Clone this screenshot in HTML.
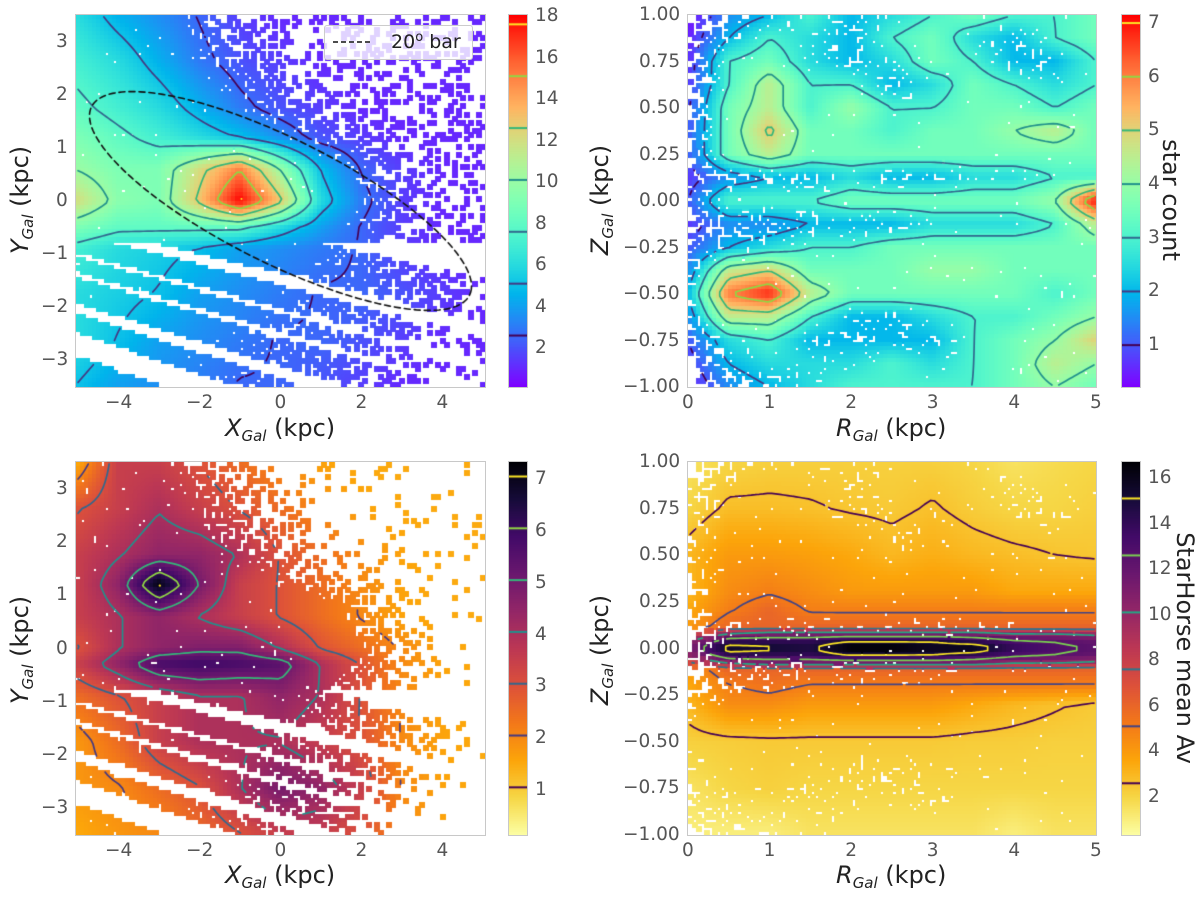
<!DOCTYPE html>
<html><head><meta charset="utf-8">
<style>
html,body{margin:0;padding:0;background:#fff;}
#root{position:relative;width:1200px;height:899px;overflow:hidden;font-family:"DejaVu Sans","Liberation Sans",sans-serif;color:#555;}
canvas{position:absolute;}
.t{position:absolute;white-space:nowrap;font-size:18.5px;color:#555;line-height:1;}
.lab{position:absolute;white-space:nowrap;font-size:24px;color:#222;line-height:1;}
.lab i{font-style:italic;}
.lab sub{font-size:15px;font-style:italic;vertical-align:-5px;}
.frame{position:absolute;border:1px solid #c8c8c8;box-sizing:border-box;pointer-events:none;}
</style></head>
<body>
<div id="root"></div>
<script>
// ---------- chart data ----------
const xTicksXY=[-4,-2,0,2,4];
const yTicksXY=[-3,-2,-1,0,1,2,3];
const rTicks=[0,1,2,3,4,5];
const zTicks=[-1,-0.75,-0.5,-0.25,0,0.25,0.5,0.75,1];
const cbTicksA=[2,4,6,8,10,12,14,16,18];
const cbTicksB=[1,2,3,4,5,6,7];
const cbTicksC=[1,2,3,4,5,6,7];
const cbTicksD=[2,4,6,8,10,12,14,16];
const levelsA=[2.6,5.1,7.6,10.1,12.6,15.1,17.6];
const levelsB=[1,2,3,4,5,6,7];
const levelsC=[1.05,2.05,3.05,4.05,5.05,6.05,7.05];
const levelsD=[2.6,5.1,7.6,10.1,12.6,15.1];
const gridX=[-5,-4,-3,-2,-1,0,1,2,3,4,5];
const gridY=[3.5,2.625,1.75,1.2,0.6,0,-0.5,-0.9,-1.75,-2.625,-3.5];
const countA=[
[6,4.5,3.5,2.5,1.5,1,1,1,1,1,1],
[7,6,4.5,3,2,1.5,1,1,1,1,1],
[8,7,6,4.5,3,2,1.5,1,1,1,1],
[9,8,7,6,5,3.5,2,1.5,1,1,1],
[10,9,9,12,15,10,5,2.5,1.5,1,1],
[12,9.5,9,13,18,13,6,3,1.5,1,1],
[9,8,8,8,8,6,4,2.5,1.5,1,1],
[7,6,5.5,5,4,3.5,3,2.5,1.5,1,1],
[6,5.5,5,4,3.5,3,2.5,2.5,2,1.5,1],
[6,5,4,3.5,3,2.5,2.5,2,1.5,1,1],
[5,4,3.5,3,2.5,2.5,2,1.5,1,1,1]];
const gridYC=[3.5,2.625,1.75,1.2,0.6,0,-0.3,-0.9,-1.75,-2.625,-3.5];
const avC=[
[1.5,3.5,3.5,3,2.5,2,1.6,1.5,1.5,1.5,1.5],
[3,3.5,4,3.5,3,2.5,2,1.6,1.5,1.5,1.5],
[3.5,4,4.5,4.5,4,3,2.5,2,1.6,1.5,1.5],
[3.5,4.5,7.2,5,3.5,3,2.5,2,1.6,1.5,1.5],
[3.5,4,4.5,4,3.5,3,2.5,2,1.6,1.5,1.5],
[3,4,4.5,4.8,4.8,4,3,2.5,2,1.6,1.5],
[3.5,4.5,5.8,6,5.8,5.5,4,3,2,1.6,1.5],
[2.5,3,3.5,4,4,4.5,4,3,2,1.6,1.5],
[1.8,2.5,3.5,4,4,4,3.5,3,2,1.6,1.5],
[1.8,2,2.5,3,4,5,4.5,3.5,2,1.6,1.5],
[1.5,1.8,2,2.5,3,3.5,3.5,3,2,1.6,1.5]];
const gridR=[0,0.5,1,1.5,2,2.5,3,3.5,4,4.5,5];
const gridZB=[1,0.875,0.75,0.625,0.5,0.375,0.25,0.125,0,-0.125,-0.25,-0.375,-0.5,-0.625,-0.75,-0.875,-1];
const countB=[
[0.3,1.5,2,3,2,2.5,3,3.5,3,3,3.5],
[0.5,2,3,2.5,2,3,3.5,2.5,2,3,3.5],
[0.6,3,3.5,2.5,2,2.5,3.5,3,2,2,3],
[0.7,3,4.5,3,3,2,2.5,3.5,3,2.5,3],
[0.9,3.5,4.5,3,4,3,3,3.5,3.5,3,3.5],
[1,3.5,5.2,3.5,3.5,3,3.5,3.5,4,4.5,3.5],
[1,3.5,4.5,3.5,3.5,3.5,3.5,3.5,3.5,3.5,3.5],
[0.7,1.5,2,2,2.5,2,2,2.5,2.5,3,3],
[1,3,3,3,3.5,3.5,3.5,3.5,3.5,4,7],
[0.7,1.5,1.5,2,2,2,2.5,2.5,2.5,3,4.5],
[1,2,2.5,3,3,3.5,3.5,3.5,3.5,3.5,3.5],
[1.5,4.5,5,3.5,3.5,3.5,4,4,3.5,3.5,3.5],
[2,6,6.8,4.5,3.5,3.5,3.5,3.5,3.5,3,3.5],
[1.5,4.5,4.5,3,2,2,2.5,3,3,3.5,4],
[1,2.5,3,2,2,2,2,3,3.5,4,5],
[0.7,2,2.5,2.5,2.5,3,2.5,3,3.5,4.5,4],
[0.4,1.5,2,2.5,3,3,3,3,3.5,4,3.5]];
const gridZD=[1,0.75,0.5,0.3,0.2,0.12,0.08,0.04,0,-0.04,-0.08,-0.12,-0.2,-0.3,-0.5,-0.75,-1];
const avD=[
[1.5,2,2.2,2.2,2.2,2.2,2.2,2,1.5,1.8,2],
[2,2.8,2.8,2.7,2.5,2.4,2.7,2.3,2,2,2.2],
[3,4,4,3.8,3.5,3,3.3,3,2.8,2.6,2.5],
[3,4.5,5,4.5,4,4,4,4,3.5,3.5,3.5],
[3.5,5,6,5,5,5,5,5,5,5,5],
[4,6,6,6,6,6,6,6,6,6,6],
[7,10,11,11,11,11,11,11,10,10,9.5],
[10,14,14,14,15,15,15,14,13,12.5,12],
[11,16,15.5,15,17,17,16,16.5,14,13,12.5],
[10,14,14,14,15,15,15,14,13,12.5,12],
[7,10,11,11,11,11,11,11,10,10,9.5],
[4,6,6,6,6,6,6,6,6,6,6],
[3.5,5,5.5,5,5,5,5,5,5,5,5],
[3,4.5,4.5,4,4,4,4,3.5,3,2.7,2.4],
[2.2,2.3,2.4,2.4,2.4,2.4,2.4,2.3,2.3,2.2,2.2],
[1.5,2,2.2,2,2,2,2,2,2,2,2],
[1,1,1,1.5,1.5,1.5,1.5,1.5,1,1.5,1.5]];
const stripeBands=[[-0.40,0.2],[-0.95,-0.62],[-1.32,-1.07],[-1.89,-1.45],[-2.45,-2.12],[-3.52,-2.92],[-4.5,-3.9]];
const barA=5.0, barB=1.22, barAngle=20;

// ---------- layout ----------
const P={
 A:{x0:76,x1:485,y0:15,y1:387,xd:[-5.05,5.05],yd:[-3.5,3.5]},
 B:{x0:688,x1:1096,y0:15,y1:387,xd:[0,5],yd:[-1,1]},
 C:{x0:76,x1:485,y0:462,y1:835,xd:[-5.05,5.05],yd:[-3.5,3.5]},
 D:{x0:688,x1:1096,y0:462,y1:835,xd:[0,5],yd:[-1,1]}
};
const CB={
 A:{x0:509,x1:527,y0:15,y1:387,lo:0.12,hi:18.05},
 B:{x0:1122,x1:1140,y0:15,y1:387,lo:0.22,hi:7.15},
 C:{x0:509,x1:527,y0:462,y1:835,lo:0.13,hi:7.33},
 D:{x0:1122,x1:1140,y0:462,y1:835,lo:0.33,hi:16.7}
};
const root=document.getElementById('root');
function sx(p,v){return p.x0+(v-p.xd[0])/(p.xd[1]-p.xd[0])*(p.x1-p.x0);}
function sy(p,v){return p.y1-(v-p.yd[0])/(p.yd[1]-p.yd[0])*(p.y1-p.y0);}

function seg(arr,v){
  const asc=arr[arr.length-1]>arr[0];
  for(let i=0;i<arr.length-1;i++){
    const a=arr[i],b=arr[i+1];
    if(asc? (v>=a&&v<=b):(v<=a&&v>=b)) return [i,(v-a)/(b-a)];
  }
  if(asc) return v<arr[0]?[0,0]:[arr.length-2,1];
  return v>arr[0]?[0,0]:[arr.length-2,1];
}
function sample(cols,rows,vals,x,y){
  const [i,fx]=seg(cols,x),[j,fy]=seg(rows,y);
  const a=vals[j][i],b=vals[j][i+1],c=vals[j+1][i],d=vals[j+1][i+1];
  return (a*(1-fx)+b*fx)*(1-fy)+(c*(1-fx)+d*fx)*fy;
}
function hsh(i,j,s){const v=Math.sin(i*12.9898+j*78.233+s*3.7)*43758.5453;return v-Math.floor(v);}
function clamp(v,a,b){return Math.max(a,Math.min(b,v));}
function stripeWhite(x,y){
  if(y>-0.78) return false;
  const dx=x+5.05;
  const y0=(y+0.172*dx)/(1+0.035*dx);
  for(const b of stripeBands){ if(y0>=b[0]&&y0<=b[1]) return false; }
  return true;
}
function rainbow(t){t=clamp(t,0,1);return [Math.min(1,Math.abs(2*t-0.5)),Math.sin(Math.PI*t),Math.cos(Math.PI*t/2)].map(v=>Math.round(clamp(v,0,1)*255));}
const inf=[[0,0,4],[22,11,57],[66,10,104],[106,23,110],[147,38,103],[188,55,84],[221,81,58],[243,120,25],[252,165,10],[246,215,70],[252,255,164]];
function infernoR(t){t=clamp(1-t,0,1)*10;const i=Math.min(9,Math.floor(t)),f=t-i;return inf[i].map((c,k)=>Math.round(c+(inf[i+1][k]-c)*f));}
const vir7=['#440154','#443983','#31688e','#21918c','#35b779','#90d743','#fde725'];
const vir6=['#440154','#414487','#2a788e','#22a884','#7ad151','#fde725'];

const NX=100,NY=92;
function makeCanvas(x,y,w,h,name){
  const c=document.createElement('canvas');c.width=w;c.height=h;c.style.left=x+'px';c.style.top=y+'px';
  
  
  root.appendChild(c);return c;
}
function drawPanel(key,valFn,presFn,cmap,levels,cols,name){
  const p=P[key],cb=CB[key];
  const w=p.x1-p.x0,h=p.y1-p.y0;
  const cv=makeCanvas(p.x0,p.y0,w,h,name);
  const ctx=cv.getContext('2d');
  const cw=w/NX,ch=h/NY;
  const F=[],M=[];
  for(let j=0;j<NY;j++){F.push([]);M.push([]);for(let i=0;i<NX;i++){
    const x=p.xd[0]+(i+0.5)/NX*(p.xd[1]-p.xd[0]);
    const y=p.yd[1]-(j+0.5)/NY*(p.yd[1]-p.yd[0]);
    const v=valFn(x,y);F[j].push(v);
    const pr=presFn(x,y,i,j);M[j].push(pr);
    if(pr){
      const c=cmap((v-cb.lo)/(cb.hi-cb.lo));
      ctx.fillStyle='rgb('+c.join(',')+')';
      ctx.fillRect(Math.floor(i*cw),Math.floor(j*ch),Math.ceil(cw)+1,Math.ceil(ch)+1);
    }
  }}
  ctx.lineWidth=1.7;ctx.lineCap='round';
  levels.forEach((L,li)=>{
    ctx.strokeStyle=cols[li];ctx.beginPath();
    for(let j=0;j<NY-1;j++)for(let i=0;i<NX-1;i++){
      const np=(M[j][i]?1:0)+(M[j][i+1]?1:0)+(M[j+1][i]?1:0)+(M[j+1][i+1]?1:0);
      if(np<3) continue;
      const a=F[j][i],b=F[j][i+1],c=F[j+1][i+1],d=F[j+1][i];
      const X0=(i+0.5)*cw,Y0=(j+0.5)*ch;
      const pts=[];
      if((a>=L)!==(b>=L))pts.push([X0+(L-a)/(b-a)*cw,Y0]);
      if((b>=L)!==(c>=L))pts.push([X0+cw,Y0+(L-b)/(c-b)*ch]);
      if((c>=L)!==(d>=L))pts.push([X0+(L-d)/(c-d)*cw,Y0+ch]);
      if((d>=L)!==(a>=L))pts.push([X0,Y0+(L-a)/(d-a)*ch]);
      for(let k=0;k+1<pts.length;k+=2){ctx.moveTo(pts[k][0],pts[k][1]);ctx.lineTo(pts[k+1][0],pts[k+1][1]);}
    }
    ctx.stroke();
  });
  const fr=document.createElement('div');fr.className='frame';
  fr.style.cssText='left:'+(p.x0-1)+'px;top:'+(p.y0-1)+'px;width:'+(w+2)+'px;height:'+(h+2)+'px;';
  
  
  root.appendChild(fr);
  return ctx;
}
function drawColorbar(key,cmap,levels,cols,ticks,name){
  const cb=CB[key];const w=cb.x1-cb.x0,h=cb.y1-cb.y0;
  const cv=makeCanvas(cb.x0,cb.y0,w,h,name);
  const ctx=cv.getContext('2d');
  for(let y=0;y<h;y++){const v=cb.hi-(y+0.5)/h*(cb.hi-cb.lo);const c=cmap((v-cb.lo)/(cb.hi-cb.lo));
    ctx.fillStyle='rgb('+c.join(',')+')';ctx.fillRect(0,y,w,1);}
  ctx.lineWidth=2;
  levels.forEach((L,i)=>{const y=(cb.hi-L)/(cb.hi-cb.lo)*h;ctx.strokeStyle=cols[i];ctx.beginPath();ctx.moveTo(0,y);ctx.lineTo(w,y);ctx.stroke();});
  const fr=document.createElement('div');fr.className='frame';
  fr.style.cssText='left:'+(cb.x0-1)+'px;top:'+(cb.y0-1)+'px;width:'+(w+2)+'px;height:'+(h+2)+'px;';
  
  
  root.appendChild(fr);
  ticks.forEach(t=>{
    const y=cb.y0+(cb.hi-t)/(cb.hi-cb.lo)*h;
    const d=document.createElement('div');d.className='t';d.textContent=String(t);
    d.style.left=(cb.x1+8)+'px';d.style.top=(y-9)+'px';
    
    
    root.appendChild(d);
  });
}
function fmt(v,dec){let s=v.toFixed(dec);if(v<0)s='\u2212'+s.slice(1);return s;}
function ticksAxes(key,xt,yt,ydec,name){
  const p=P[key];
  xt.forEach(v=>{const d=document.createElement('div');d.className='t';d.textContent=fmt(v,0);
    root.appendChild(d);d.style.top=(p.y1+7)+'px';d.style.left=(sx(p,v)-d.offsetWidth/2)+'px';
    
    });
  yt.forEach(v=>{const d=document.createElement('div');d.className='t';d.textContent=fmt(v,ydec);
    root.appendChild(d);d.style.top=(sy(p,v)-9)+'px';d.style.left=(p.x0-8-d.offsetWidth)+'px';
    
    });
}
function label(html,cx,cy,rot,name){
  const d=document.createElement('div');d.className='lab';d.innerHTML=html;root.appendChild(d);
  d.style.left=(cx-d.offsetWidth/2)+'px';d.style.top=(cy-d.offsetHeight/2)+'px';
  if(rot)d.style.transform='rotate('+rot+'deg)';
  
  
}

const vA=(x,y)=>sample(gridX,gridY,countA,x,y);
const vB=(x,y)=>sample(gridR,gridZB,countB,x,y);
const vC=(x,y)=>sample(gridX,gridYC,avC,x,y);
const vD=(x,y)=>sample(gridR,gridZD,avD,x,y);
function presA(x,y,i,j){if(stripeWhite(x,y))return false;const v=vA(x,y);const p=v>=3?0.985:clamp(0.25+(v-1)*0.3,0,1);return hsh(i,j,1)<p;}
function presC(x,y,i,j){if(stripeWhite(x,y))return false;const v=vA(x,y);const p=v>=3.5?0.975:clamp(0.12+(v-1.2)*0.35,0,1);return hsh(i,j,2)<p;}
function presB(x,y,i,j){const v=vB(x,y);const p=v>=3?0.985:clamp(0.3+(v-0.6)*0.3,0,1);return hsh(i,j,3)<p;}
function presD(x,y,i,j){const v=vB(x,y);const p=v>=3?0.97:clamp(0.35+(v-0.6)*0.28,0,1);return hsh(i,j,4)<p;}

const ctxA=drawPanel('A',vA,presA,rainbow,levelsA,vir7,'xy-star-count-heatmap');
drawPanel('B',vB,presB,rainbow,levelsB,vir7,'rz-star-count-heatmap');
drawPanel('C',vC,presC,infernoR,levelsC,vir7,'xy-mean-av-heatmap');
drawPanel('D',vD,presD,infernoR,levelsD,vir6,'rz-mean-av-heatmap');

(function(){const p=P.A;const th=barAngle*Math.PI/180;ctxA.setLineDash([6,4]);ctxA.strokeStyle='#111';ctxA.lineWidth=1.6;ctxA.beginPath();
 for(let k=0;k<=200;k++){const t=k/200*2*Math.PI;const x=barA*Math.cos(t)*Math.cos(th)+barB*Math.sin(t)*Math.sin(th);
  const y=-barA*Math.cos(t)*Math.sin(th)+barB*Math.sin(t)*Math.cos(th);
  const X=sx(p,x)-p.x0,Y=sy(p,y)-p.y0;if(k==0)ctxA.moveTo(X,Y);else ctxA.lineTo(X,Y);}
 ctxA.stroke();ctxA.setLineDash([]);})();

drawColorbar('A',rainbow,levelsA,vir7,cbTicksA,'star-count-colorbar-top-left');
drawColorbar('B',rainbow,levelsB,vir7,cbTicksB,'star-count-colorbar');
drawColorbar('C',infernoR,levelsC,vir7,cbTicksC,'mean-av-colorbar-bottom-left');
drawColorbar('D',infernoR,levelsD,vir6,cbTicksD,'mean-av-colorbar');

ticksAxes('A',xTicksXY,yTicksXY,0,'xy-top');
ticksAxes('B',rTicks,zTicks,2,'rz-top');
ticksAxes('C',xTicksXY,yTicksXY,0,'xy-bottom');
ticksAxes('D',rTicks,zTicks,2,'rz-bottom');

label('<i>X</i><sub>Gal</sub> (kpc)',280,430,0,'x-axis-title-top-left');
label('<i>R</i><sub>Gal</sub> (kpc)',891,430,0,'x-axis-title-top-right');
label('<i>X</i><sub>Gal</sub> (kpc)',280,877,0,'x-axis-title-bottom-left');
label('<i>R</i><sub>Gal</sub> (kpc)',891,877,0,'x-axis-title-bottom-right');
label('<i>Y</i><sub>Gal</sub> (kpc)',22,200,-90,'y-axis-title-top-left');
label('<i>Z</i><sub>Gal</sub> (kpc)',602,200,-90,'y-axis-title-top-right');
label('<i>Y</i><sub>Gal</sub> (kpc)',22,650,-90,'y-axis-title-bottom-left');
label('<i>Z</i><sub>Gal</sub> (kpc)',602,650,-90,'y-axis-title-bottom-right');
label('star count',1171,200,90,'colorbar-title-star-count');
label('StarHorse mean Av',1185,648,90,'colorbar-title-mean-av');

(function(){const lg=document.createElement('div');
 lg.style.cssText='position:absolute;left:324px;top:25px;width:149px;height:35px;background:rgba(255,255,255,0.8);border:1px solid #ccc;border-radius:3px;box-sizing:border-box;';
 
 
 lg.innerHTML='<svg width="149" height="35" style="position:absolute;left:0;top:0"><line x1="8" y1="16" x2="48" y2="16" stroke="#111" stroke-width="1.6" stroke-dasharray="5,3"/></svg>'+
 '<div style="position:absolute;left:66px;top:7px;font-size:19px;color:#222;white-space:nowrap;line-height:1">20<sup style="font-size:13px;vertical-align:7px;line-height:0">o</sup> bar</div>';
 root.appendChild(lg);})();
</script>
</body></html>
